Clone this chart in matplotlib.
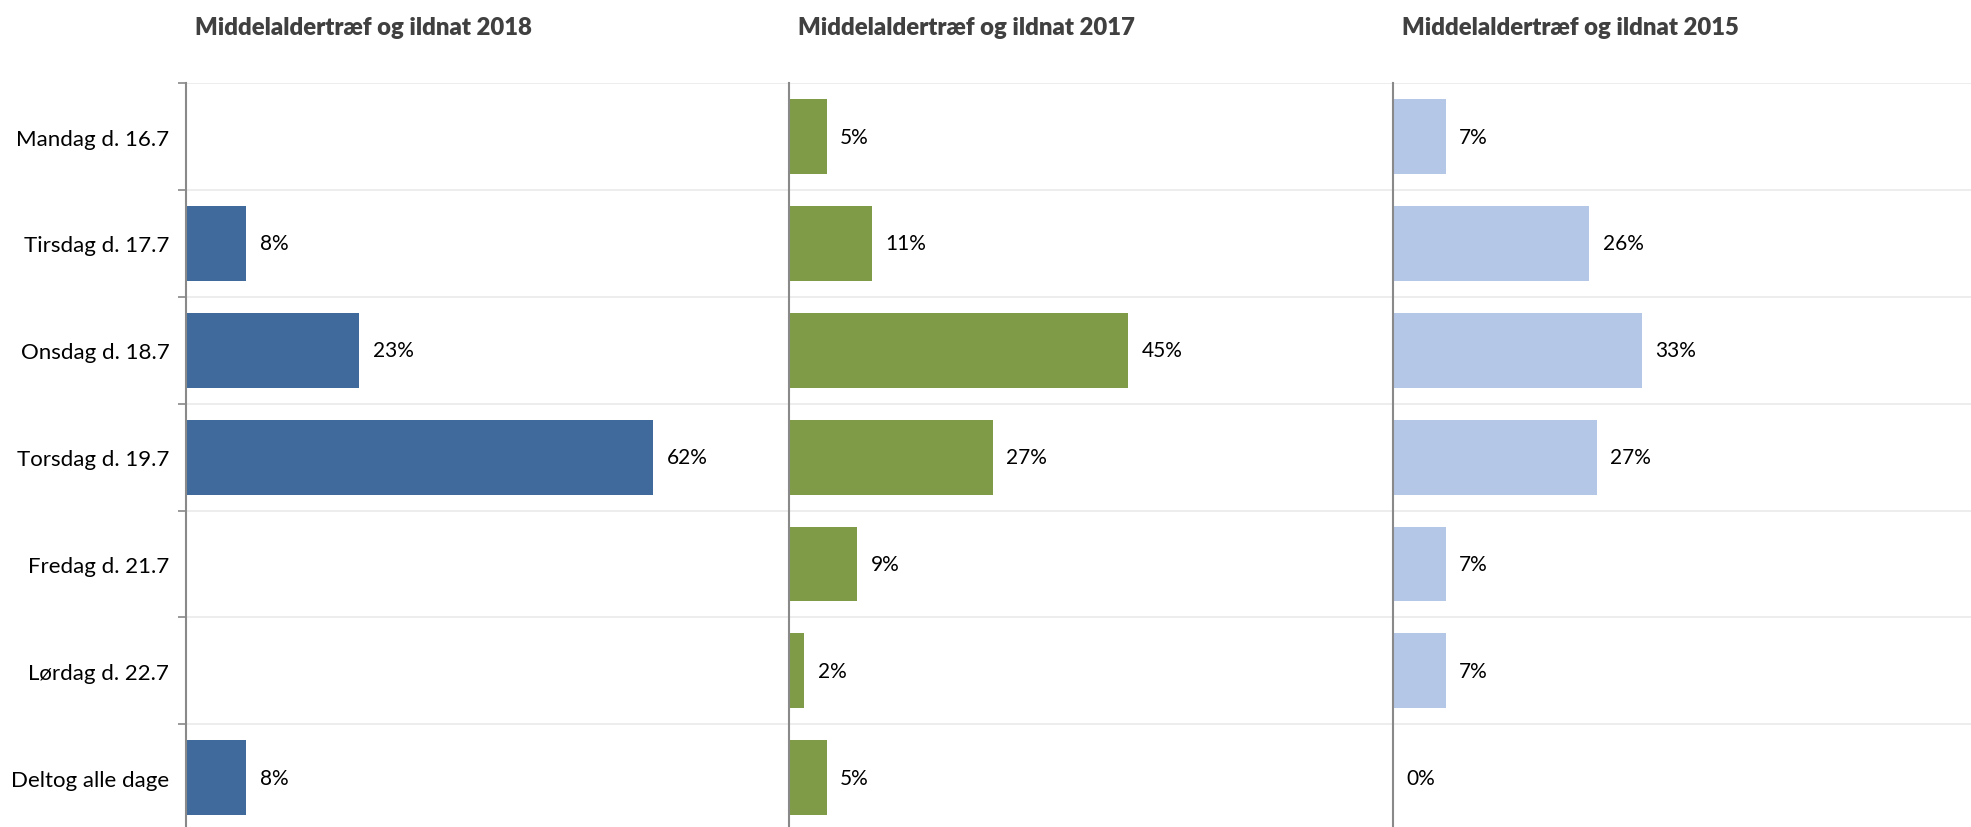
import numpy as np
import matplotlib.pyplot as plt

plt.rcParams['font.family'] = ['Lato', 'DejaVu Sans']

days = ["Mandag d. 16.7", "Tirsdag d. 17.7", "Onsdag d. 18.7", "Torsdag d. 19.7",
        "Fredag d. 21.7", "Lørdag d. 22.7", "Deltog alle dage"]
share_2018 = [None, 8, 23, 62, None, None, 8]
share_2017 = [5, 11, 45, 27, 9, 2, 5]
share_2015 = [7, 26, 33, 27, 7, 7, 0]

titles = ["Middelaldertræf og ildnat 2018", "Middelaldertræf og ildnat 2017",
          "Middelaldertræf og ildnat 2015"]
colors = ["#3F6A9B", "#7F9B48", "#B4C7E7"]

W, H = 1971, 828
fig = plt.figure(figsize=(W / 100, H / 100), dpi=100)

lefts = [186, 789, 1393]   # panel origins in pixels
panel_w = 603
top_px = 84.2
row_h = 106.85

y = np.arange(len(days))
for i, (series, title, color, left) in enumerate(zip(
        [share_2018, share_2017, share_2015], titles, colors, lefts)):
    ax = fig.add_axes([left / W, 1 - (top_px + row_h * len(days)) / H,
                       panel_w / W, row_h * len(days) / H])
    vals = [v if v is not None else 0 for v in series]
    ax.barh(y, vals, height=0.7, color=color, zorder=3)
    for yi, v in zip(y, series):
        if v is None:
            continue
        ax.text(v + 1.8, yi, f"{v}%", va='center', ha='left', fontsize=15, color='black')

    ax.set_xlim(0, 80)
    ax.set_ylim(len(days) - 0.5, -0.5)
    ax.set_xticks([])
    ax.set_yticks(y)
    ax.set_yticks(np.arange(len(days) + 1) - 0.5, minor=True)
    if i == 0:
        ax.set_yticklabels(days, fontsize=16)
        ax.tick_params(axis='y', which='major', length=0, pad=12)
        ax.tick_params(axis='y', which='minor', length=6, color='#898989', width=1.2)
    else:
        ax.set_yticklabels([])
        ax.tick_params(axis='y', which='both', length=0)
    ax.grid(axis='y', which='minor', color='#ececec', linewidth=1.3, zorder=0)
    ax.grid(axis='y', which='major', visible=False)
    for s in ['top', 'right', 'bottom']:
        ax.spines[s].set_visible(False)
    ax.spines['left'].set_color('#898989')
    ax.spines['left'].set_linewidth(1.5)
    ax.spines['left'].set_zorder(4)

    fig.text((left + 9) / W, 1 - 28 / H, title, fontsize=17.2, fontweight='heavy',
             color='#404040', va='center', ha='left')

fig.savefig("out.png", dpi=100)
